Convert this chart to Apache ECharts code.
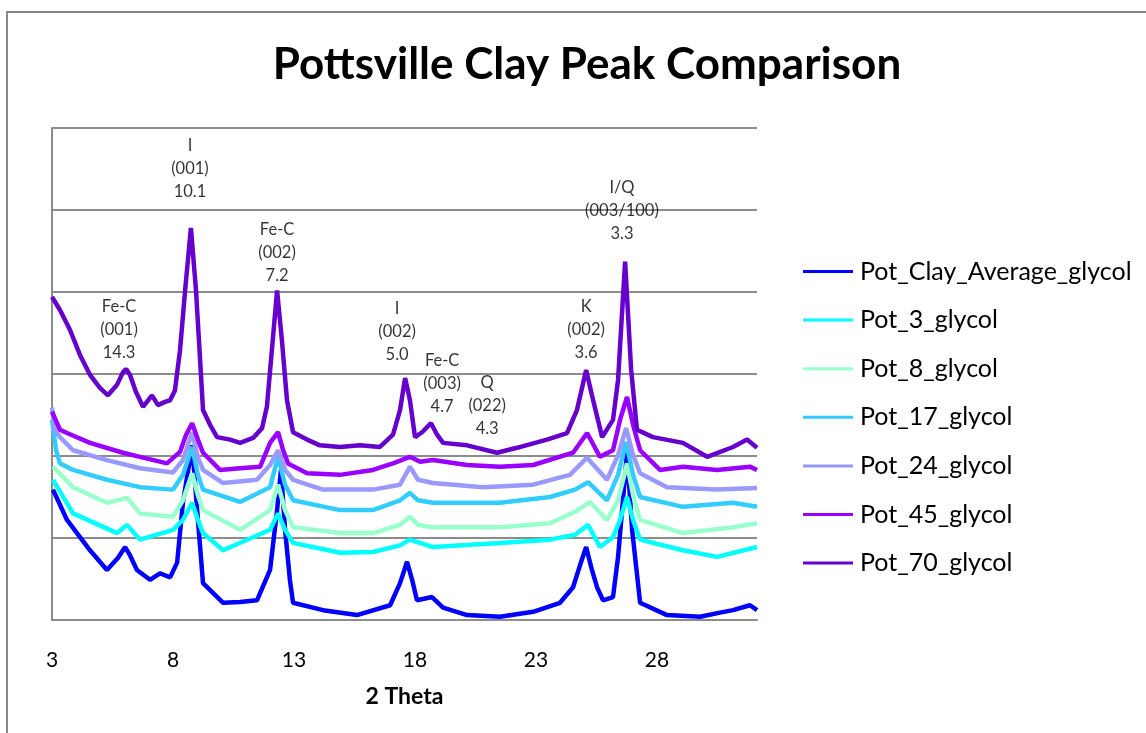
<!DOCTYPE html>
<html>
<head>
<meta charset="utf-8">
<script src="https://cdn.jsdelivr.net/npm/echarts@6/dist/echarts.min.js"></script>
<style>
html,body{margin:0;padding:0;background:#fff;}
#chart{width:1146px;height:733px;}
</style>
</head>
<body>
<div id="chart"></div>
<script>
// 2-theta tick labels
const xTicks = [3, 8, 13, 18, 23, 28];

// series names
const seriesNames = ['Pot_Clay_Average_glycol','Pot_3_glycol','Pot_8_glycol','Pot_17_glycol','Pot_24_glycol','Pot_45_glycol','Pot_70_glycol'];

// [2theta, relative intensity (stacked offset units)]
const potClayAverage = [[3.04,1.59],[3.62,1.22],[4.57,0.85],[5.27,0.61],[5.73,0.76],[6.02,0.89],[6.22,0.79],[6.51,0.61],[7.05,0.49],[7.46,0.57],[7.88,0.52],[8.17,0.70],[8.41,1.43],[8.79,2.13],[9.03,1.22],[9.24,0.45],[10.07,0.21],[10.77,0.22],[11.47,0.24],[12.01,0.61],[12.30,1.34],[12.46,1.83],[12.63,1.10],[12.83,0.49],[12.96,0.21],[14.20,0.12],[15.60,0.06],[16.97,0.18],[17.38,0.45],[17.67,0.71],[17.88,0.49],[18.08,0.24],[18.70,0.28],[19.16,0.15],[20.15,0.06],[21.51,0.04],[22.88,0.10],[23.99,0.21],[24.53,0.40],[24.82,0.67],[25.07,0.89],[25.31,0.61],[25.52,0.40],[25.77,0.24],[26.18,0.28],[26.39,0.77],[26.76,2.04],[26.97,1.10],[27.30,0.21],[28.41,0.06],[29.78,0.04],[30.60,0.09],[31.14,0.12],[31.84,0.18],[32.13,0.12]];
const pot3 = [[3.04,1.71],[3.87,1.30],[5.69,1.06],[6.10,1.16],[6.64,0.98],[8.00,1.10],[8.41,1.22],[8.79,1.43],[9.03,1.22],[9.24,1.06],[10.07,0.85],[12.01,1.10],[12.34,1.30],[12.63,1.10],[12.96,0.94],[14.90,0.82],[16.26,0.83],[17.38,0.91],[17.79,0.98],[18.74,0.89],[21.51,0.94],[23.58,0.98],[24.61,1.04],[25.15,1.16],[25.64,0.89],[26.18,1.01],[26.47,1.22],[26.76,1.50],[27.01,1.22],[27.30,0.98],[29.07,0.85],[30.48,0.77],[32.13,0.89]];
const pot8 = [[3.04,1.87],[3.87,1.62],[5.27,1.43],[6.10,1.49],[6.64,1.30],[8.00,1.26],[8.41,1.46],[8.79,1.79],[9.03,1.52],[9.24,1.34],[10.77,1.10],[12.01,1.34],[12.34,1.65],[12.63,1.34],[12.96,1.13],[14.90,1.06],[16.26,1.06],[17.38,1.16],[17.79,1.26],[18.12,1.16],[18.74,1.13],[21.51,1.13],[23.58,1.18],[24.61,1.32],[25.23,1.44],[25.93,1.22],[26.39,1.46],[26.76,1.91],[27.01,1.52],[27.30,1.22],[29.07,1.06],[31.14,1.13],[32.13,1.18]];
const pot17 = [[3.00,2.44],[3.17,2.07],[3.33,1.91],[3.87,1.83],[5.27,1.71],[6.64,1.62],[8.00,1.59],[8.41,1.77],[8.79,2.11],[9.03,1.77],[9.24,1.59],[10.77,1.44],[12.01,1.62],[12.34,1.99],[12.63,1.65],[12.96,1.46],[14.90,1.34],[16.26,1.34],[17.38,1.46],[17.79,1.55],[18.12,1.46],[18.74,1.43],[21.51,1.43],[23.58,1.50],[24.61,1.59],[25.15,1.68],[25.93,1.46],[26.39,1.77],[26.72,2.17],[27.01,1.77],[27.30,1.50],[29.07,1.38],[31.14,1.43],[32.13,1.38]];
const pot24 = [[3.00,2.59],[3.12,2.32],[3.33,2.23],[3.87,2.07],[5.27,1.95],[6.64,1.85],[8.00,1.80],[8.41,1.95],[8.79,2.29],[9.03,1.98],[9.24,1.83],[10.07,1.67],[11.47,1.71],[12.01,1.89],[12.34,2.07],[12.63,1.83],[12.96,1.71],[14.20,1.59],[16.26,1.59],[17.38,1.65],[17.79,1.87],[18.12,1.71],[18.74,1.67],[20.81,1.62],[22.88,1.65],[24.40,1.77],[25.11,1.98],[25.93,1.71],[26.39,2.01],[26.72,2.34],[27.01,2.01],[27.30,1.79],[28.41,1.62],[30.48,1.59],[32.13,1.61]];
const pot45 = [[3.00,2.54],[3.33,2.32],[3.62,2.28],[4.57,2.16],[5.93,2.04],[6.64,1.99],[7.75,1.91],[8.29,2.05],[8.54,2.26],[8.79,2.40],[9.03,2.20],[9.24,2.04],[9.94,1.83],[10.77,1.85],[11.60,1.87],[12.01,2.16],[12.34,2.29],[12.55,2.07],[12.75,1.91],[13.54,1.79],[14.90,1.77],[16.26,1.83],[17.09,1.91],[17.79,1.99],[18.21,1.93],[18.74,1.95],[20.15,1.89],[21.51,1.87],[22.88,1.89],[24.53,2.04],[25.11,2.28],[25.64,1.99],[26.18,2.07],[26.47,2.44],[26.76,2.72],[27.01,2.38],[27.30,2.07],[28.12,1.83],[29.07,1.87],[30.48,1.83],[31.84,1.87],[32.13,1.83]];
const pot70 = [[3.00,3.94],[3.33,3.78],[3.74,3.54],[4.16,3.23],[4.57,2.99],[4.98,2.83],[5.31,2.74],[5.69,2.87],[5.93,3.02],[6.06,3.06],[6.22,2.99],[6.47,2.78],[6.76,2.60],[7.13,2.74],[7.38,2.62],[7.67,2.66],[7.88,2.68],[8.08,2.80],[8.29,3.29],[8.50,4.02],[8.74,4.78],[8.95,4.02],[9.12,3.17],[9.24,2.56],[9.53,2.38],[9.82,2.23],[10.36,2.20],[10.77,2.16],[11.31,2.22],[11.68,2.34],[11.88,2.60],[12.05,3.17],[12.30,4.02],[12.50,3.41],[12.71,2.68],[12.96,2.29],[13.54,2.20],[14.07,2.13],[14.90,2.11],[15.73,2.13],[16.55,2.11],[17.09,2.26],[17.38,2.56],[17.59,2.95],[17.79,2.68],[18.00,2.23],[18.29,2.29],[18.66,2.40],[18.91,2.26],[19.16,2.16],[20.15,2.13],[21.39,2.04],[22.21,2.10],[23.45,2.20],[24.28,2.28],[24.69,2.56],[25.07,3.05],[25.31,2.74],[25.73,2.23],[26.18,2.44],[26.39,2.93],[26.68,4.37],[26.93,3.05],[27.17,2.32],[27.83,2.23],[29.07,2.16],[30.07,1.99],[31.14,2.11],[31.72,2.20],[32.13,2.10]];

// peak annotations [2theta, height, text]
const peakLabels = [
  [8.70, 5.51, 'I\n(001)\n10.1'],
  [12.30, 4.48, 'Fe-C\n(002)\n7.2'],
  [5.77, 3.54, 'Fe-C\n(001)\n14.3'],
  [17.26, 3.52, 'I\n(002)\n5.0'],
  [19.12, 2.88, 'Fe-C\n(003)\n4.7'],
  [20.98, 2.61, 'Q\n(022)\n4.3'],
  [25.07, 3.54, 'K\n(002)\n3.6'],
  [26.55, 4.99, 'I/Q\n(003/100)\n3.3']
];

const seriesData = [potClayAverage, pot3, pot8, pot17, pot24, pot45, pot70];
const colors = ['#0000FF','#00FFFF','#99FFCC','#33CCFF','#9999FF','#9900FF','#6600CC'];
const FONT = 'Lato, "Open Sans", sans-serif';

const chart = echarts.init(document.getElementById('chart'), null, {renderer:'canvas'});

const series = seriesNames.map((name, i) => ({
  name: name,
  type: 'line',
  data: seriesData[i],
  showSymbol: false,
  symbol: 'none',
  smooth: false,
  color: colors[i],
  lineStyle: {width: 4.5, color: colors[i]},
  z: 2 + i,
  animation: false
}));

series.push({
  name: 'labels',
  type: 'scatter',
  data: peakLabels,
  symbolSize: 0,
  silent: true,
  z: 20,
  animation: false,
  label: {
    show: true,
    position: 'inside',
    formatter: p => p.data[2],
    fontFamily: FONT,
    fontSize: 16.5,
    lineHeight: 23,
    color: '#000',
    textBorderWidth: 0,
    align: 'center',
    verticalAlign: 'middle'
  }
});

chart.setOption({
  animation: false,
  backgroundColor: '#fff',
  title: {
    text: 'Pottsville Clay Peak Comparison',
    left: 582,
    top: 38,
    textAlign: 'center',
    textStyle: {fontFamily: FONT, fontWeight: 'bold', fontSize: 44, color: '#000'}
  },
  graphic: [{
    type: 'rect',
    shape: {x: 7, y: 12, width: 1200, height: 800},
    style: {fill: null, stroke: '#888', lineWidth: 2},
    silent: true
  }],
  legend: {
    data: seriesNames,
    orient: 'vertical',
    left: 803,
    top: 259,
    padding: 0,
    icon: 'rect',
    itemWidth: 50,
    itemHeight: 3,
    itemGap: 23.6,
    textStyle: {fontFamily: FONT, fontSize: 25, color: '#000', padding: [0, 0, 0, 2]}
  },
  grid: {left: 52, top: 128, right: 389, bottom: 113, containLabel: false},
  xAxis: {
    type: 'value',
    min: 3,
    max: 32.13,
    name: '2 Theta',
    nameLocation: 'middle',
    nameGap: 65,
    nameTextStyle: {fontFamily: FONT, fontWeight: 'bold', fontSize: 23, color: '#000', verticalAlign: 'top'},
    axisLine: {show: true, lineStyle: {color: '#8c8c8c', width: 2}},
    axisTick: {show: false},
    splitLine: {show: false},
    axisLabel: {
      customValues: xTicks,
      fontFamily: FONT, fontSize: 21, color: '#000', margin: 30
    }
  },
  yAxis: {
    type: 'value',
    min: 0,
    max: 6,
    interval: 1,
    axisLine: {show: true, lineStyle: {color: '#8c8c8c', width: 2}},
    axisTick: {show: false},
    axisLabel: {show: false},
    splitLine: {show: true, lineStyle: {color: '#8c8c8c', width: 2}}
  },
  series: series
});
</script>
</body>
</html>
